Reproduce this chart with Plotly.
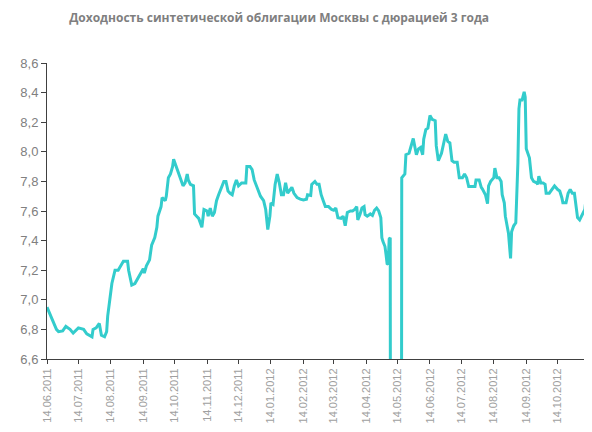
import plotly.graph_objects as go

title_text = "Доходность синтетической облигации Москвы с дюрацией 3 года"

dates = [
    "2011-06-14", "2011-06-17", "2011-06-20", "2011-06-23", "2011-06-25", "2011-06-29",
    "2011-07-02", "2011-07-06", "2011-07-09", "2011-07-14", "2011-07-19", "2011-07-22",
    "2011-07-27", "2011-07-28", "2011-07-31", "2011-08-03", "2011-08-05", "2011-08-08",
    "2011-08-10", "2011-08-11", "2011-08-13", "2011-08-15", "2011-08-18", "2011-08-21",
    "2011-08-26", "2011-08-30", "2011-08-31", "2011-09-03", "2011-09-06", "2011-09-09",
    "2011-09-12", "2011-09-14", "2011-09-15", "2011-09-17", "2011-09-20", "2011-09-22",
    "2011-09-25", "2011-09-27", "2011-09-28", "2011-10-01", "2011-10-02", "2011-10-05",
    "2011-10-06", "2011-10-08", "2011-10-10", "2011-10-12", "2011-10-13", "2011-10-16",
    "2011-10-18", "2011-10-20", "2011-10-22", "2011-10-24", "2011-10-26", "2011-10-27",
    "2011-10-29", "2011-11-01", "2011-11-02", "2011-11-04", "2011-11-06", "2011-11-09",
    "2011-11-11", "2011-11-14", "2011-11-15", "2011-11-17", "2011-11-19", "2011-11-21",
    "2011-11-23", "2011-11-25", "2011-11-28", "2011-11-30", "2011-12-02", "2011-12-04",
    "2011-12-06", "2011-12-08", "2011-12-10", "2011-12-12", "2011-12-14", "2011-12-17",
    "2011-12-21", "2011-12-22", "2011-12-25", "2011-12-27", "2011-12-29", "2011-12-30",
    "2012-01-01", "2012-01-03", "2012-01-04", "2012-01-07", "2012-01-09", "2012-01-11",
    "2012-01-13", "2012-01-14", "2012-01-16", "2012-01-18", "2012-01-20", "2012-01-22",
    "2012-01-24", "2012-01-26", "2012-01-28", "2012-01-30", "2012-02-01", "2012-02-03",
    "2012-02-05", "2012-02-08", "2012-02-11", "2012-02-14", "2012-02-17", "2012-02-18",
    "2012-02-21", "2012-02-22", "2012-02-25", "2012-02-27", "2012-02-29", "2012-03-02",
    "2012-03-04", "2012-03-06", "2012-03-09", "2012-03-12", "2012-03-14", "2012-03-16",
    "2012-03-18", "2012-03-21", "2012-03-23", "2012-03-25", "2012-03-27", "2012-03-30",
    "2012-04-01", "2012-04-03", "2012-04-05", "2012-04-06", "2012-04-08", "2012-04-10",
    "2012-04-12", "2012-04-13", "2012-04-15", "2012-04-18", "2012-04-20", "2012-04-22",
    "2012-04-24", "2012-04-26", "2012-04-28", "2012-04-29", "2012-04-30", "2012-05-02",
    "2012-05-03", "2012-05-04", "2012-05-05", "2012-05-06", "2012-05-07", "2012-05-08",
    "2012-05-17", "2012-05-18", "2012-05-21", "2012-05-22", "2012-05-25", "2012-05-27",
    "2012-05-29", "2012-06-01", "2012-06-03", "2012-06-05", "2012-06-07", "2012-06-08",
    "2012-06-10", "2012-06-12", "2012-06-14", "2012-06-16", "2012-06-19", "2012-06-20",
    "2012-06-22", "2012-06-25", "2012-06-27", "2012-06-29", "2012-07-01", "2012-07-03",
    "2012-07-05", "2012-07-07", "2012-07-10", "2012-07-12", "2012-07-15", "2012-07-17",
    "2012-07-19", "2012-07-21", "2012-07-24", "2012-07-27", "2012-07-28", "2012-07-31",
    "2012-08-02", "2012-08-03", "2012-08-06", "2012-08-08", "2012-08-09", "2012-08-11",
    "2012-08-14", "2012-08-15", "2012-08-17", "2012-08-19", "2012-08-21", "2012-08-22",
    "2012-08-24", "2012-08-25", "2012-08-28", "2012-08-30", "2012-08-31", "2012-09-02",
    "2012-09-04", "2012-09-06", "2012-09-07", "2012-09-08", "2012-09-10", "2012-09-12",
    "2012-09-13", "2012-09-14", "2012-09-17", "2012-09-18", "2012-09-19", "2012-09-21",
    "2012-09-24", "2012-09-25", "2012-09-26", "2012-09-28", "2012-09-30", "2012-10-02",
    "2012-10-03", "2012-10-06", "2012-10-10", "2012-10-11", "2012-10-14", "2012-10-16",
    "2012-10-18", "2012-10-19", "2012-10-22", "2012-10-24", "2012-10-26", "2012-10-28",
    "2012-10-30", "2012-11-01", "2012-11-02", "2012-11-04", "2012-11-06", "2012-11-09",
    "2012-11-10",
]

yields = [
    6.95, 6.90, 6.85, 6.80, 6.785, 6.79,
    6.82, 6.80, 6.775, 6.81, 6.80, 6.77,
    6.75, 6.80, 6.81, 6.84, 6.76, 6.75,
    6.785, 6.89, 7.00, 7.11, 7.20, 7.20,
    7.26, 7.26, 7.20, 7.10, 7.11, 7.15,
    7.19, 7.21, 7.18, 7.23, 7.27, 7.37,
    7.42, 7.49, 7.565, 7.63, 7.69, 7.67,
    7.70, 7.825, 7.85, 7.90, 7.95, 7.89,
    7.84, 7.80, 7.77, 7.79, 7.85, 7.81,
    7.78, 7.77, 7.58, 7.565, 7.55, 7.49,
    7.61, 7.60, 7.565, 7.62, 7.565, 7.59,
    7.67, 7.71, 7.77, 7.80, 7.80, 7.735,
    7.72, 7.71, 7.77, 7.81, 7.77, 7.79,
    7.79, 7.90, 7.90, 7.88, 7.81, 7.79,
    7.76, 7.72, 7.70, 7.67, 7.61, 7.475,
    7.565, 7.655, 7.645, 7.78, 7.85, 7.79,
    7.71, 7.71, 7.79, 7.72, 7.745, 7.76,
    7.72, 7.69, 7.68, 7.675, 7.68, 7.71,
    7.705, 7.78, 7.80, 7.78, 7.78, 7.71,
    7.67, 7.63, 7.63, 7.61, 7.605, 7.62,
    7.555, 7.55, 7.565, 7.50, 7.59, 7.60,
    7.60, 7.61, 7.63, 7.54, 7.575, 7.62,
    7.63, 7.575, 7.565, 7.58, 7.57, 7.605,
    7.62, 7.60, 7.555, 7.42, 7.395, 7.36,
    7.305, 7.245, 7.24, 7.41, 7.42, 0.0,
    0.0, 7.825, 7.85, 7.98, 7.99, 8.04,
    8.09, 7.98, 8.02, 8.03, 7.98, 8.085,
    8.15, 8.16, 8.245, 8.22, 8.21, 8.04,
    7.94, 7.99, 8.06, 8.12, 8.07, 8.06,
    7.94, 7.93, 7.93, 7.825, 7.825, 7.85,
    7.825, 7.765, 7.765, 7.765, 7.81, 7.81,
    7.76, 7.75, 7.71, 7.65, 7.77, 7.80,
    7.825, 7.89, 7.825, 7.825, 7.80, 7.71,
    7.655, 7.565, 7.45, 7.28, 7.46, 7.50,
    7.52, 7.925, 8.29, 8.35, 8.35, 8.405,
    8.37, 8.02, 7.96, 7.90, 7.825, 7.80,
    7.79, 7.78, 7.835, 7.79, 7.79, 7.78,
    7.72, 7.72, 7.755, 7.77, 7.745, 7.735,
    7.69, 7.655, 7.655, 7.72, 7.745, 7.72,
    7.72, 7.63, 7.555, 7.54, 7.565, 7.61,
    7.68,
]

fig = go.Figure()
fig.add_trace(go.Scatter(
    x=dates, y=yields, mode="lines",
    line=dict(color="#33CCCC", width=3),
    hoverinfo="skip", showlegend=False,
))

axis_color = "#404040"

fig.update_layout(
    width=592, height=432,
    margin=dict(l=37, r=12, t=55, b=81),
    paper_bgcolor="white", plot_bgcolor="white",
    separators=", ",
    title=dict(
        text="<b>" + title_text + "</b>",
        x=0.458, xanchor="center", y=0.977, yanchor="middle",
        font=dict(family="Open Sans, sans-serif", size=12, color="#7F7F7F"),
    ),
)
fig.update_xaxes(
    type="date",
    range=["2011-06-14", "2012-11-12"],
    tick0="2011-06-14", dtick="M1",
    tickformat="%d.%m.%Y", tickangle=-90,
    showgrid=False, zeroline=False,
    showline=True, linecolor=axis_color, linewidth=1,
    ticks="outside", ticklen=4, tickcolor=axis_color,
    tickfont=dict(family="Liberation Sans, Arial, sans-serif", size=11, color="#A0A0A0"),
)
fig.update_yaxes(
    range=[6.6, 8.6], dtick=0.2, tick0=6.6, tickformat=".1f",
    showgrid=False, zeroline=False,
    showline=True, linecolor=axis_color, linewidth=1,
    ticks="outside", ticklen=5, tickcolor=axis_color,
    tickfont=dict(family="Liberation Sans, Arial, sans-serif", size=13, color="#808080"),
)

fig.write_html("out.html")
